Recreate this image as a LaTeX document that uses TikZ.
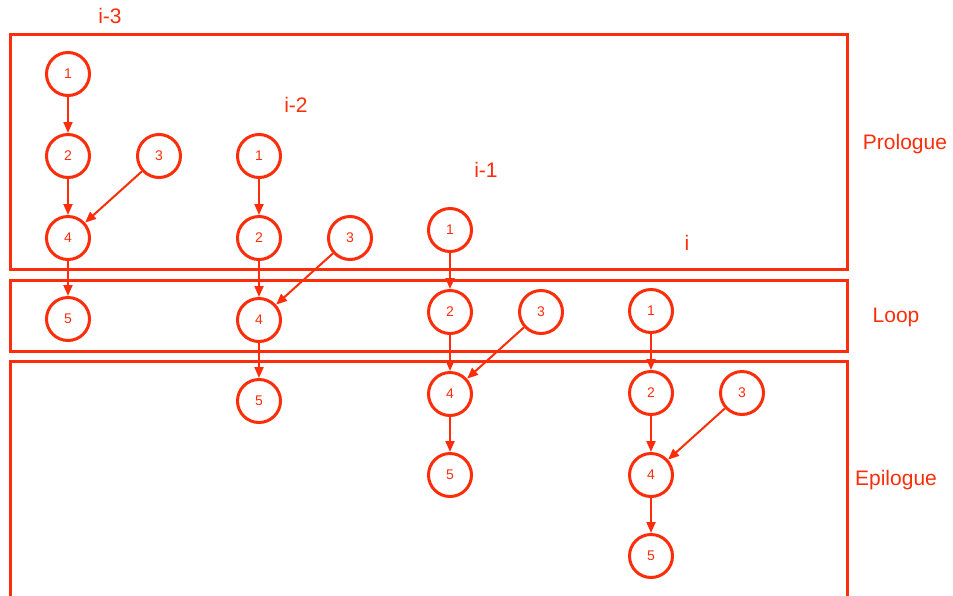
\documentclass[tikz,border=0pt]{standalone}
\usepackage{fontspec}
\setmainfont{Liberation Sans}
\usetikzlibrary{arrows.meta}
\definecolor{rd}{RGB}{252,45,10}
\begin{document}
\begin{tikzpicture}[x=1pt,y=-1pt,
  nd/.style={circle,draw=rd,line width=3pt,minimum size=43pt,inner sep=0pt,text=rd,font=\fontsize{14}{16}\selectfont},
  ar/.style={draw=rd,line width=2pt,-{Triangle[length=11pt,width=9pt]}},
  bx/.style={draw=rd,line width=3pt},
  lb/.style={text=rd,font=\fontsize{21}{25}\selectfont,inner sep=0pt}]
\useasboundingbox (0,0) rectangle (953,595);
\begin{scope}
\clip (0,0) rectangle (953,595);
\draw[bx] (10,34) rectangle (847,269);
\draw[bx] (10,280) rectangle (847,351);
\draw[bx] (10,610) -- (10,361) -- (847,361) -- (847,610);
\end{scope}
\node[lb] (pro) at (905,144) {Prologue};
\node[lb] (loop) at (896,317) {Loop};
\node[lb] (epi) at (896,480) {Epilogue};
\node[lb] (l3) at (110,16) {i-3};
\node[lb] (l2) at (296,105) {i-2};
\node[lb] (l1) at (486,170) {i-1};
\node[lb] (l0) at (687,243) {i};
% columns
\foreach \c/\x/\y in {a/68/74, b/259/156, c/450/230, d/651/311}{
  \node[nd] (\c1) at (\x,\y) {1};
  \node[nd] (\c2) at (\x,\y+82) {2};
  \node[nd] (\c3) at (\x+91,\y+82) {3};
  \node[nd] (\c4) at (\x,\y+164) {4};
  \node[nd] (\c5) at (\x,\y+245) {5};
  \draw[ar] (\c1) -- (\c2);
  \draw[ar] (\c2) -- (\c4);
  \draw[ar] (\c3) -- (\c4);
  \draw[ar] (\c4) -- (\c5);
}
\end{tikzpicture}
\end{document}
